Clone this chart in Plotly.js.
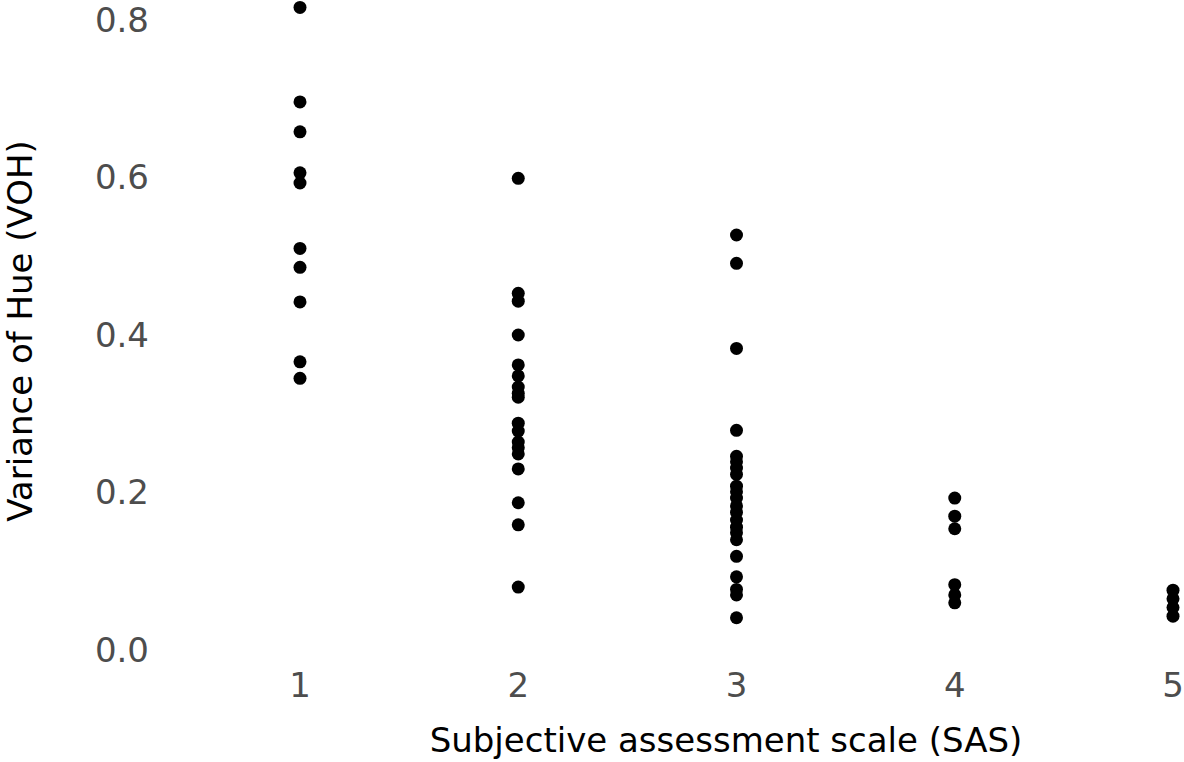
<!DOCTYPE html>
<html>
<head>
<meta charset="utf-8">
<script src="https://cdn.plot.ly/plotly-3.0.1.min.js"></script>
<style>
  html, body { margin: 0; padding: 0; background: #fff; }
  #chart { width: 1184px; height: 762px; }
</style>
</head>
<body>
<div id="chart"></div>
<script>
// Variance of Hue for each subjective assessment score
const sas1 = [0.816, 0.696, 0.658, 0.606, 0.593, 0.510, 0.486, 0.442, 0.366, 0.345];
const sas2 = [0.599, 0.453, 0.443, 0.400, 0.362, 0.348, 0.334, 0.326, 0.321, 0.288,
              0.278, 0.264, 0.257, 0.249, 0.230, 0.187, 0.159, 0.080];
const sas3 = [0.527, 0.491, 0.383, 0.279, 0.246, 0.239, 0.231, 0.223, 0.208, 0.201,
              0.193, 0.183, 0.175, 0.165, 0.156, 0.149, 0.140, 0.119, 0.093, 0.077,
              0.070, 0.041];
const sas4 = [0.193, 0.170, 0.154, 0.083, 0.070, 0.060];
const sas5 = [0.076, 0.065, 0.054, 0.043];

const groups = [sas1, sas2, sas3, sas4, sas5];
const tickVals = [1, 2, 3, 4, 5];
const yTicks = [0, 0.2, 0.4, 0.6, 0.8];

// flatten into one scatter trace
var xs = [], ys = [];
groups.forEach(function(g, i) {
    g.forEach(function(v) {
        xs.push(tickVals[i]);
        ys.push(v);
    });
});

var trace = {
    x: xs,
    y: ys,
    mode: 'markers',
    type: 'scatter',
    marker: { color: '#000', size: 13 },
    cliponaxis: false,
    hoverinfo: 'x+y'
};

var fontFamily = '"DejaVu Sans", Verdana, sans-serif';
var fs = 34;

var layout = {
    width: 1184,
    height: 762,
    paper_bgcolor: '#fff',
    plot_bgcolor: '#fff',
    showlegend: false,
    margin: { l: 268, r: 0, t: 0, b: 100 },
    font: { family: fontFamily, size: fs, color: '#000' },
    xaxis: {
        range: [0.8534, 5.0504],
        tickvals: tickVals,
        ticktext: tickVals.map(String),
        showgrid: false,
        zeroline: false,
        showline: false,
        ticks: '',
        ticklabeloverflow: 'allow',
        tickfont: { color: '#4d4d4d', size: fs },
        title: { text: 'Subjective assessment scale (SAS)', font: { size: fs, color: '#000' }, standoff: 24 }
    },
    yaxis: {
        range: [-0.0152, 0.8254],
        tickvals: yTicks,
        ticktext: yTicks.map(function(v) { return v.toFixed(1); }),
        showgrid: false,
        zeroline: false,
        showline: false,
        ticks: '',
        ticklabelstandoff: 118,
        ticklabeloverflow: 'allow',
        tickfont: { color: '#4d4d4d', size: fs },
        title: { text: 'Variance of Hue (VOH)', font: { size: fs, color: '#000' }, standoff: 56 }
    }
};

Plotly.newPlot('chart', [trace], layout, { displayModeBar: false, staticPlot: true });
</script>
</body>
</html>
